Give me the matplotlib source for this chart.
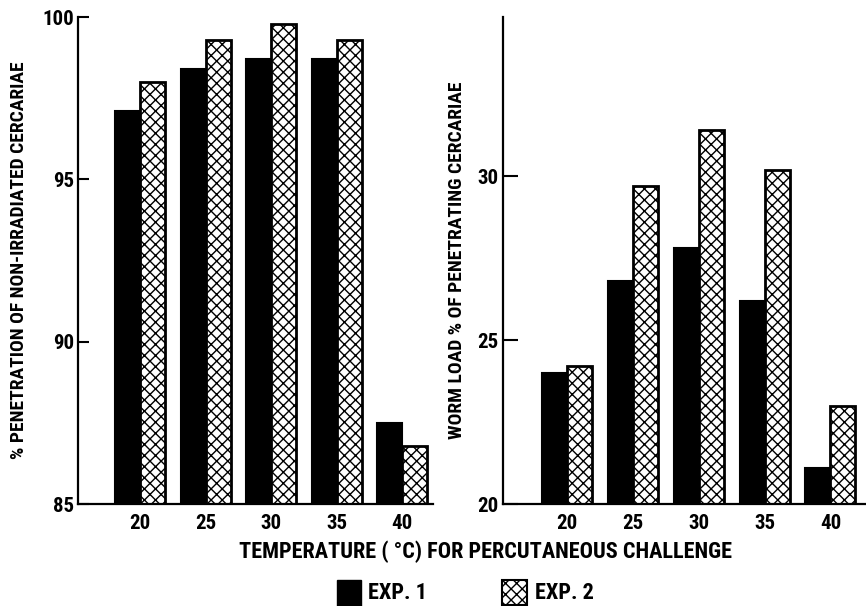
import matplotlib.pyplot as plt
import numpy as np

plt.rcParams['font.family'] = ['Roboto Condensed', 'Archivo Narrow', 'Barlow Condensed',
                               'Liberation Sans Narrow', 'DejaVu Sans']
plt.rcParams['font.weight'] = 'bold'
plt.rcParams['axes.labelweight'] = 'bold'
plt.rcParams['hatch.linewidth'] = 1.0

# data
temps = ['20', '25', '30', '35', '40']
pen_exp1 = [97.1, 98.4, 98.7, 98.7, 87.5]
pen_exp2 = [98.0, 99.3, 99.8, 99.3, 86.8]
load_exp1 = [24.0, 26.8, 27.8, 26.2, 21.1]
load_exp2 = [24.2, 29.7, 31.4, 30.2, 23.0]

x = np.arange(len(temps))
w = 0.38

fig = plt.figure(figsize=(8.66, 6.06), dpi=100)
ax1 = fig.add_axes([0.0901, 0.1683, 0.41, 0.8036])
ax2 = fig.add_axes([0.5808, 0.1683, 0.42, 0.8036])


def draw(ax, a, b, ylim, yticks, xlim, tick_len):
    ax.bar(x - w / 2, a, w, color='black', edgecolor='black', lw=1.5)
    ax.bar(x + w / 2, b, w, color='white', edgecolor='black', hatch='xxx', lw=2)
    ax.set_ylim(*ylim)
    ax.set_xlim(*xlim)
    ax.set_yticks(yticks)
    ax.set_xticks(x)
    ax.set_xticklabels(temps)
    for s in ['top', 'right']:
        ax.spines[s].set_visible(False)
    for s in ['left', 'bottom']:
        ax.spines[s].set_linewidth(1.6)
    ax.tick_params(axis='y', direction='in', length=tick_len, width=1.5,
                   labelsize=15, pad=3)
    ax.tick_params(axis='x', length=0, labelsize=15, pad=7)


draw(ax1, pen_exp1, pen_exp2, (85, 100), [85, 90, 95, 100], (-0.95, 4.47), 8)
draw(ax2, load_exp1, load_exp2, (20, 34.85), [20, 25, 30], (-0.97, 4.55), 11)

ax1.set_ylabel('% PENETRATION OF NON-IRRADIATED CERCARIAE', fontsize=14, labelpad=10)
ax2.set_ylabel('WORM LOAD % OF PENETRATING CERCARIAE', fontsize=14, labelpad=8)

fig.text(0.5607, 0.089, 'TEMPERATURE ( °C) FOR PERCUTANEOUS CHALLENGE',
         ha='center', va='center', fontsize=16)

# legend drawn by hand as in the original
fig.patches.append(plt.Rectangle((337 / 866, 1 - 606 / 606), 24 / 866, 26 / 606,
                                 transform=fig.transFigure, facecolor='black',
                                 edgecolor='black'))
fig.patches.append(plt.Rectangle((502 / 866, 1 - 605 / 606), 25 / 866, 25 / 606,
                                 transform=fig.transFigure, facecolor='white',
                                 edgecolor='black', hatch='xxx', lw=1.5))
fig.text(368 / 866, 1 - 593 / 606, 'EXP. 1', ha='left', va='center', fontsize=16)
fig.text(535 / 866, 1 - 593 / 606, 'EXP. 2', ha='left', va='center', fontsize=16)

fig.savefig('out.png', dpi=100)
